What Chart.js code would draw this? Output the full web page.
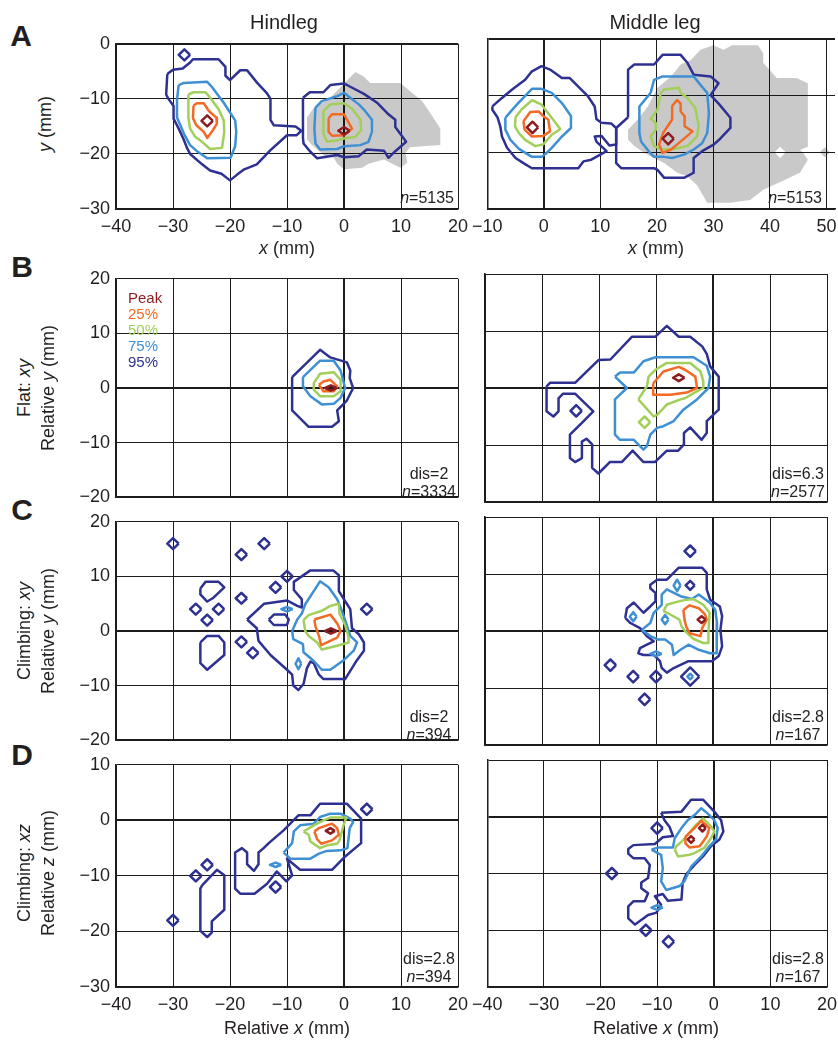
<!DOCTYPE html>
<html>
<head>
<meta charset="utf-8">
<script src="https://cdn.jsdelivr.net/npm/chart.js@4.4.0/dist/chart.umd.min.js"></script>
<style>
  body { margin:0; width:838px; height:1040px; position:relative; overflow:hidden; background:#fff;
         font-family:"Liberation Sans", Arial, sans-serif; color:#231f20; }
  canvas { position:absolute; }
  .c, .r, .l, .v { position:absolute; line-height:1; white-space:nowrap; z-index:2; }
  .c { transform:translate(-50%,-50%); }
  .r { transform:translate(-100%,-50%); }
  .l { transform:translate(0,-50%); }
  .v { transform:translate(-50%,-50%) rotate(-90deg); font-size:18px; }
  .big { font-size:30px; font-weight:bold; }
  .ttl { font-size:20px; }
  .ax { font-size:18px; }
  .note { font-size:16px; text-align:center; }
  .lg { font-size:15px; }
</style>
</head>
<body>

<div class="c ttl" style="left:284px;top:22px">Hindleg</div>
<div class="c ttl" style="left:655px;top:22px">Middle leg</div>

<div class="c big" style="left:21px;top:36px">A</div>
<div class="c big" style="left:22px;top:267px">B</div>
<div class="c big" style="left:22px;top:510px">C</div>
<div class="c big" style="left:22px;top:755px">D</div>

<div class="v" style="left:45px;top:124px"><i>y</i> (mm)</div>
<div class="v" style="left:24px;top:388px">Flat: <i>xy</i></div>
<div class="v" style="left:48px;top:388px">Relative <i>y</i> (mm)</div>
<div class="v" style="left:24px;top:631px">Climbing: <i>xy</i></div>
<div class="v" style="left:48px;top:631px">Relative <i>y</i> (mm)</div>
<div class="v" style="left:24px;top:873px">Climbing: <i>xz</i></div>
<div class="v" style="left:48px;top:873px">Relative <i>z</i> (mm)</div>

<div class="c ax" style="left:287px;top:248px"><i>x</i> (mm)</div>
<div class="c ax" style="left:656px;top:248px"><i>x</i> (mm)</div>
<div class="c ax" style="left:287px;top:1028px">Relative <i>x</i> (mm)</div>
<div class="c ax" style="left:656px;top:1028px">Relative <i>x</i> (mm)</div>

<div class="l lg" style="left:128px;top:297px;color:#8c1c1f">Peak</div>
<div class="l lg" style="left:128px;top:313px;color:#f26a25">25%</div>
<div class="l lg" style="left:128px;top:329px;color:#a2cf5a">50%</div>
<div class="l lg" style="left:128px;top:345px;color:#3f8fd4">75%</div>
<div class="l lg" style="left:128px;top:361px;color:#2e3191">95%</div>

<div class="r note" style="left:454px;top:198px"><i>n</i>=5135</div>
<div class="r note" style="left:822px;top:198px"><i>n</i>=5153</div>
<div class="c note" style="left:429px;top:474px">dis=2</div>
<div class="c note" style="left:429px;top:492px"><i>n</i>=3334</div>
<div class="c note" style="left:798px;top:474px">dis=6.3</div>
<div class="c note" style="left:798px;top:492px"><i>n</i>=2577</div>
<div class="c note" style="left:429px;top:717px">dis=2</div>
<div class="c note" style="left:429px;top:735px"><i>n</i>=394</div>
<div class="c note" style="left:798px;top:717px">dis=2.8</div>
<div class="c note" style="left:798px;top:735px"><i>n</i>=167</div>
<div class="c note" style="left:429px;top:959px">dis=2.8</div>
<div class="c note" style="left:429px;top:977px"><i>n</i>=394</div>
<div class="c note" style="left:798px;top:959px">dis=2.8</div>
<div class="c note" style="left:798px;top:977px"><i>n</i>=167</div>

<script>
// tick values
const relTicksX = [-40, -30, -20, -10, 0, 10, 20];
const midTicksXA = [-10, 0, 10, 20, 30, 40, 50];
const ticksYA = [0, -10, -20, -30];
const ticksYBC = [20, 10, 0, -10, -20];
const ticksYD = [10, 0, -10, -20, -30];

// contour levels, outermost first
const levelNames = ['95%', '75%', '50%', '25%', 'Peak'];
const levelColors = ['#2e3191', '#3f8fd4', '#a2cf5a', '#f26a25', '#8c1c1f'];

// --- A, hindleg (x, y in mm) ---
const aHind95 = [
  [[-31,-5.5],[-30,-4.7],[-28.3,-4.5],[-27,-3.4],[-26.5,-2.8],[-22,-2.8],[-20.8,-4.2],[-20.8,-5.8],[-20,-6.6],[-18.2,-4.8],[-17,-4.8],[-15.3,-7],[-13.5,-9],[-12.9,-10],[-12.9,-13.8],[-12.3,-14.8],[-8.5,-15],[-7.5,-15.8],[-8.3,-16.6],[-10,-16.6],[-12.9,-19.3],[-15.3,-21.9],[-17.5,-22.8],[-18.8,-23.8],[-20,-24.8],[-21.5,-23.6],[-23.5,-23],[-25,-21.8],[-27,-20],[-27.5,-19],[-28.2,-17.2],[-29,-15.4],[-29.9,-13.6],[-29.9,-11.3],[-30.8,-10],[-31.2,-9.2]],
  [[-7.2,-9.8],[-6,-8.8],[-3.6,-8.8],[-2.4,-7.5],[0,-7.2],[1.1,-7.8],[3.5,-9.1],[5.8,-10.7],[7.8,-12.8],[9,-13.8],[9,-15.1],[10.9,-17.8],[9,-19.5],[7.8,-20.7],[7,-19.4],[4,-19.2],[2.6,-20.4],[0,-20.6],[-1.2,-20.2],[-4.7,-20.8],[-5.9,-19.6],[-7.1,-18.1],[-7.2,-17.1]]
];
const aHind95Dia = [[-28,-2]];
const aHind75 = [
  [[-29,-7.5],[-28.1,-7.1],[-24,-6.9],[-23.2,-7.8],[-21.1,-10.7],[-19.1,-13.9],[-18.9,-16],[-19.1,-18.6],[-19.9,-20.7],[-24,-20.8],[-25.8,-19.5],[-27,-18.4],[-28.1,-16.3],[-28.7,-14.8],[-29.3,-13.4],[-29.3,-10.1]],
  [[-5,-11.6],[-3.9,-10.4],[-1.2,-9.5],[0,-8.9],[1.1,-9.8],[2.6,-11],[3.7,-12.2],[4.9,-13.8],[4.9,-16],[4.3,-17.8],[2.9,-18.4],[0,-18.6],[-1.2,-19.1],[-4.2,-19.2],[-5,-18.1],[-5.2,-15.4]]
];
const aHind50 = [
  [[-27.3,-9.2],[-26.4,-8.8],[-24.3,-8.8],[-23.7,-9.5],[-22,-11.9],[-21.1,-13.9],[-21,-16],[-21.4,-18.9],[-23.5,-19.1],[-24.9,-17.8],[-26.1,-16.9],[-27,-15.4],[-27.3,-13.4]],
  [[-3.6,-12.2],[-2.4,-11],[0,-10.8],[1.4,-11.8],[2.9,-13.8],[3,-15.7],[2,-16.9],[0,-17.2],[-1.2,-17.5],[-3,-17.8],[-3.6,-16.3]]
];
const aHind25 = [
  [[-26.4,-11.2],[-25.8,-10.8],[-24.6,-10.8],[-23.7,-12.2],[-22.4,-13.4],[-22.3,-14.5],[-23,-15.7],[-24,-17.1],[-24.6,-16],[-25.9,-14.8],[-26.5,-13.5]],
  [[-2.7,-13.5],[-2.1,-12.8],[0,-12.8],[0.6,-13.9],[1.4,-15.4],[0.6,-16.1],[0,-16.6],[-2.1,-16.7],[-2.7,-16]]
];
const aHindPeak = [[-24,-14], [0,-15.8,1,0.7]];
const aHindGray = [
  [[-6.5,-13.4],[-5.3,-11.6],[-2.4,-9.8],[0,-7.2],[2,-5.1],[3.5,-6],[4.6,-7.1],[9.9,-7.1],[11.6,-8.6],[13.7,-10.4],[15.1,-12.5],[16.9,-15.4],[16.9,-18.4],[13.7,-18.6],[11.6,-18.8],[10.8,-19.8],[11.1,-21.6],[9.9,-22.5],[8.7,-21.9],[7,-21],[4.3,-21.8],[3.2,-22.5],[0,-22.8],[-1.2,-21.8],[-1.8,-20.7],[-3.3,-20.4],[-4.7,-19.2],[-5.9,-18.1],[-6.6,-17.2]]
];

// --- A, middle leg ---
const aMid95 = [
  [[-9.1,-11.9],[-7.4,-10.4],[-5.6,-8.9],[-3.3,-7.2],[-2.1,-5.7],[-0.4,-4.8],[1.1,-5.4],[3.2,-6.9],[4.6,-6.9],[6.1,-8.4],[7.8,-10.1],[9,-11.9],[9.3,-14.1],[10.2,-14.8],[11.9,-14.9],[12.8,-15.7],[12.8,-18.6],[11.6,-18.8],[10.2,-17.1],[9,-17.2],[9.3,-18.1],[11.1,-19.8],[8.4,-21.3],[7,-21.6],[6.1,-22.8],[-2.1,-22.8],[-3.6,-21.9],[-5,-21],[-6.5,-19.2],[-7.4,-17.2],[-7.7,-15.4],[-8.2,-13.8],[-9.1,-12.5]],
  [[14.9,-13.8],[14.9,-5.4],[16,-4.5],[19.5,-4.5],[21,-2.8],[24.2,-2.8],[25.4,-4.2],[26.5,-6.3],[29.5,-6.6],[30.9,-7.8],[29.5,-9.9],[31,-11.5],[33,-13.9],[33,-15.7],[31.2,-17.6],[30.1,-18.6],[28,-19.8],[26.5,-21],[26.5,-23.6],[24.8,-24.5],[21.3,-24.5],[20.1,-23.1],[19.5,-22.8],[13.7,-22.8],[12.8,-21.9],[12.8,-15.7]]
];
const aMid75 = [
  [[-6.8,-13.9],[-5.6,-12.5],[-4.4,-11.2],[-2.1,-8.8],[-0.4,-8.8],[1.4,-9.5],[3.2,-11.3],[4.8,-13.6],[4.8,-15.7],[3.2,-17.2],[1.4,-19.2],[0.5,-20.1],[-0.4,-20.8],[-2.1,-20.8],[-4.4,-19.4],[-5.9,-17.8],[-6.8,-16]],
  [[18.9,-9.5],[19.5,-7.2],[21,-6.6],[26.5,-6.6],[27.7,-8.1],[28.9,-9.5],[29.2,-13.1],[28.9,-16.6],[28,-18.4],[26.5,-19.5],[24.8,-20.4],[22.7,-21],[21.3,-20.8],[19.5,-20.8],[18.7,-20],[17.2,-18.1],[16.9,-16.6],[16.9,-11.9]]
];
const aMid50 = [
  [[-5,-13.8],[-3.9,-12.4],[-2.1,-10.8],[-0.4,-11.6],[1.4,-13.9],[2.9,-15.9],[1.4,-16.9],[-0.1,-18.6],[-1.5,-18.9],[-3.3,-17.8],[-4.4,-16.6],[-5.1,-15.4]],
  [[20.7,-9.5],[21.3,-8.9],[23.9,-8.6],[24.2,-9.5],[25.4,-10.4],[26.8,-12.2],[27.4,-15.4],[27.1,-17.2],[25.4,-18.9],[23,-19.4],[21,-19.5],[19.5,-18.9],[18.9,-17.2],[19.8,-16],[19.8,-14.8],[18.9,-14.1],[20.1,-12.5]]
];
const aMid25 = [
  [[-3.6,-14.5],[-2.4,-12.9],[-0.9,-12.8],[0.1,-13.8],[0.8,-14.2],[1.1,-16.3],[-0.1,-17.1],[-2.1,-17.2],[-3.4,-16]],
  [[22.7,-11.8],[23.6,-10.8],[24.2,-11.4],[24.2,-12.8],[24.9,-13.6],[24.9,-15.4],[26.3,-16.3],[23.6,-18.6],[22.5,-19.5],[21,-20.1],[20.4,-18.6],[21.1,-16.6],[22.7,-14.2]]
];
const aMidPeak = [[-2,-15.6], [22,-17.6]];
const aMidGray = [
  [[14.9,-16],[16.6,-14.2],[18.4,-11.9],[20.1,-8.6],[22.5,-6.6],[24.2,-4.5],[26,-3.7],[27.7,-1.9],[30,-1.1],[31.8,-1.9],[33.3,-1.1],[37.9,-1.1],[38.8,-2.5],[38.8,-4.2],[41.2,-6.9],[44.7,-6.9],[46.7,-7.8],[46.7,-19],[45.3,-19.6],[45.8,-20],[42.8,-20],[41.8,-19],[40.8,-20],[41.8,-21],[42.8,-20],[45.8,-20],[46.7,-21.3],[45.3,-23.6],[42.6,-24.9],[38.8,-26.6],[36.5,-28.4],[33,-28.9],[28.9,-28.9],[27.1,-25.8],[25.4,-24.2],[23.6,-23.6],[21.3,-21.9],[20.1,-21.3],[17.8,-20.1],[16,-18.9],[14.9,-17.8]]
];
const aMidGrayDia = [[49.7,-20,0.9]];

// --- B, flat xy ---
const bHind95 = [[[-9.1,2],[-4.2,7],[-2.4,5.6],[0.5,4.7],[1.1,3.2],[1,1.8],[1.6,0],[0.5,-2.3],[-1.2,-4.1],[-0.9,-6.1],[-2.1,-7.1],[-6.2,-7.1],[-9.1,-4.1]]];
const bHind75 = [[[-7.2,2],[-4.2,5],[-1.8,5],[-0.6,3.2],[0.2,0],[-0.6,-1.8],[-1.8,-2.9],[-3.9,-3],[-5.9,-1.5],[-7.2,0.3]]];
const bHind50 = [[[-5.3,0.9],[-4.2,2.6],[-1.8,2.9],[-0.6,1.5],[-0.6,-0.6],[-1.8,-1.5],[-4.2,-1.5],[-5.3,-0.3]]];
const bHind25 = [[[-4.4,0.6],[-3.6,1.2],[-2.4,1.5],[-1.2,0.3],[-1.8,-0.6],[-3.6,-0.6]]];
const bHindPeak = [[-2.3,0,1,0.5]];

const bMid95 = [[[-29.2,0.3],[-28.6,0.9],[-24.2,0.9],[-20.1,4.9],[-18,5],[-14.2,9],[-10.1,9],[-8.1,10.9],[-6,9],[-4,9],[-1.9,7.3],[-1.1,6],[-0.5,3.8],[1,2],[1,-3.8],[-1.1,-5.8],[-1.1,-7.9],[-2,-9.1],[-4,-6.9],[-5.1,-7.9],[-5.1,-9.9],[-6.1,-11],[-8.1,-11],[-10.2,-13],[-12.2,-13],[-14.1,-11],[-16,-13],[-18.1,-13],[-20.1,-15],[-21.2,-14],[-21.2,-9.9],[-22.2,-8.9],[-23,-9.4],[-23,-12.3],[-24.2,-13],[-25.1,-12.3],[-25.1,-8.2],[-23,-6.1],[-21,-4.1],[-24.2,-1],[-26.3,-1],[-27.1,-1.8],[-27.1,-4.1],[-28,-5],[-29.2,-4.1]]];
const bMid95Dia = [[-24,-4]];
const bMid75 = [[[-17.2,2],[-16.3,2.7],[-13.9,2.7],[-12.2,4.7],[-10.1,5.4],[-3.4,5.4],[-1.1,3.9],[-0.5,2],[-0.8,0],[-2.8,-2],[-5.2,-3.8],[-6.9,-5.8],[-8.7,-6.7],[-9.8,-7],[-11,-8.2],[-11.6,-10.2],[-12.2,-10.8],[-13.9,-9.1],[-16.3,-9.1],[-17.2,-8.2],[-17.2,-2],[-15.1,0]]];
const bMid50 = [[[-13.1,-2],[-11.6,0.3],[-11.3,2],[-10.1,3.2],[-8.1,4.4],[-4,4.4],[-2.2,2.9],[-1.7,1.2],[-1.7,0],[-3.4,-0.9],[-4.9,-1.8],[-5.7,-2],[-8.1,-2.9],[-9.8,-4.7],[-10.4,-5]]];
const bMid50Dia = [[-12,-6]];
const bMid25 = [[[-10.5,0.8],[-8.7,2.9],[-6,3.7],[-4.9,3.2],[-3.1,2],[-2.8,0],[-4.6,-0.8],[-7.5,-1.2],[-10.4,-1.2]]];
const bMidPeak = [[-6,1.8,1,0.6]];

// --- C, climbing xy ---
const cHind95 = [
  [[-17,2.1],[-14,5],[-10,5.6],[-8.2,4.6],[-7.4,4.3],[-7.4,5.8],[-8.8,7.5],[-8.8,9],[-5.9,11.1],[-1.9,11.1],[-0.9,10.2],[-0.9,7.3],[0,5.8],[1.1,4],[1.4,0.5],[2.6,-0.6],[3.5,-2.1],[3.5,-3.6],[2.3,-5.3],[0.2,-8.8],[-3.6,-8.8],[-4.4,-8],[-5.3,-5.9],[-5.9,-5.6],[-6.5,-6.8],[-7.1,-9.7],[-8,-10.8],[-8.9,-10],[-9.1,-8],[-10,-7.1],[-12.9,-4.4],[-15,-1.8],[-15.3,0.5]],
  [[-13.2,2.1],[-12.3,3],[-10.3,3],[-9.7,2.1],[-10,1.1],[-12.3,1.1]],
  [[-25.2,7.8],[-24.3,9],[-22,9],[-21,8],[-22.9,6.1],[-24,5.4],[-25.2,6.7]],
  [[-25.2,-2.1],[-24,-0.9],[-22,-0.9],[-21,-2.1],[-21,-4.4],[-24,-7.1],[-25.2,-5.9]]
];
const cHind95Dia = [[-30,16],[-18,14],[-14,16],[-10,10],[-12,8],[-18,6],[-26,4],[-22,4],[-24,2],[-18,-2],[-16,-4],[4,4]];
const cHind75 = [[[-9.1,0],[-8.2,2.1],[-7.4,3.2],[-6.8,4.9],[-4.2,9.1],[-2.7,8],[-1.2,5.8],[-0.6,4.3],[0.2,2],[1.1,-0.9],[2.3,-2.1],[1.7,-3.6],[0,-5.3],[-2.4,-7.1],[-3.9,-7.1],[-5.3,-5.5],[-7.1,-3.9],[-7.2,-2.4],[-8.9,-1.5]]];
const cHind75Dia = [[-10,4,1,0.4], [-8,-6,0.5,1]];
const cHind50 = [[[-7.1,2],[-6.2,2.9],[-3.9,3.7],[-2.4,4.6],[-0.9,5],[-0.8,3.2],[0.2,1.1],[0.8,-1.1],[0.8,-2.1],[-1.2,-2.7],[-3.9,-3.4],[-4.7,-2.1],[-6.2,-0.9],[-6.8,0]]];
const cHind25 = [[[-5.2,2.1],[-2.4,3],[-1.2,1.4],[-0.6,0],[-1.2,-1.2],[-2.4,-1.8],[-4,-2.6],[-4.4,-0.9],[-5,0.8]]];
const cHindPeak = [[-2.3,0,1,0.5]];

const cMid95 = [[[-15.4,2.3],[-15.1,4],[-13.9,5],[-12.2,3.2],[-11,4.3],[-10.1,5.2],[-10.1,6.7],[-11,7.5],[-11,8.1],[-9.8,9],[-8.1,9],[-6,11.1],[-1.9,11.1],[-1.1,10.2],[-1.1,7.3],[-0.5,5.5],[1.2,4.3],[1.6,2.6],[1.3,0.2],[1.6,-2.7],[1,-4.4],[-0.2,-5.3],[-4.3,-5.3],[-6.9,-6.5],[-8.1,-7.3],[-9,-6.5],[-9.3,-5.3],[-10.4,-4.2],[-12.2,-4.2],[-13.1,-3.9],[-12.8,-3],[-11.6,-2.4],[-10.4,-1.8],[-11.6,-0.9],[-12.8,0.5],[-14.5,1.4]]];
const cMid95Dia = [[-4,14],[-18,-6],[-14,-8],[-10,-8],[-12,-12],[-4,-8,1.6],[-4,8,0.8]];
const cMid75 = [[[-12.5,0.2],[-11,1.4],[-10.4,3.2],[-9,4.6],[-9,6.4],[-8.1,7.3],[-5.7,6.1],[-3.7,5.6],[-2.5,6.4],[-0.5,4.9],[0.4,3.7],[0.7,1.4],[0.6,-0.9],[0.7,-3.9],[-0.5,-3.9],[-2.5,-3.3],[-4.3,-2.4],[-5.7,-3.3],[-6.9,-4.2],[-7.2,-2.4],[-8.4,-1.5],[-9.6,-1.5],[-11,-0.9]]];
const cMid75Dia = [[-6.3,8,0.6,1],[-14,2.5,0.6,0.8],[-8.4,2,0.6,0.8],[-10,-4,1,0.4],[-4,-8,0.5]];
const cMid50 = [[[-8.7,3.5],[-8.1,4.6],[-6,5.2],[-4.6,5.5],[-3.4,5.6],[-1.7,4.6],[-0.6,3.2],[-0.8,0],[-0.8,-2.1],[-1.7,-2.1],[-3.4,-1.4],[-4.9,0],[-5.5,0.8],[-5.9,2],[-7.5,2.9]]];
const cMid25 = [[[-5.2,3.7],[-4.1,4.5],[-2.5,4],[-1.4,2.9],[-1.1,2],[-1.9,0.5],[-2.2,-0.9],[-4.1,-0.4],[-4.7,0.8],[-5,2]]];
const cMidPeak = [[-2,2,0.7,0.6]];

// --- D, climbing xz ---
const dHind95 = [
  [[-10.6,-1.8],[-8,0.9],[-5.9,0.9],[-4.2,3],[0.5,3],[3,0.3],[3,-4.1],[0,-6.7],[-2.1,-8.9],[-7.7,-8.9],[-10,-6.9],[-9.1,-9.9],[-10.1,-11],[-11.8,-9.2],[-13.5,-11.4],[-15.7,-13.2],[-18.2,-13.2],[-19.1,-12.3],[-19.1,-5.8],[-17.9,-5],[-17,-5.8],[-17,-7.9],[-15.8,-9.1],[-15,-7.9],[-15,-5.8],[-14.1,-5],[-13.2,-4.1]],
  [[-24.9,-11.7],[-22.3,-8.9],[-21,-9.9],[-21,-16.1],[-23.2,-18.2],[-23.2,-20.2],[-24,-21],[-25.2,-19.9],[-25.2,-12.3]]
];
const dHind95Dia = [[4,2],[-24,-8],[-26,-10],[-30,-18],[-12,-12]];
const dHind75 = [[[-10.6,-5.8],[-9.1,-4.1],[-8.8,-2],[-7.7,-0.9],[-5.3,-0.6],[-4.2,0.6],[-2.4,1.2],[-0.6,1.2],[1.1,0.3],[1.6,-0.3],[1,-1.4],[0.6,-5],[-0.6,-5.4],[-3,-5.5],[-4.4,-6],[-5.9,-6.9],[-9.4,-6.9]]];
const dHind75Dia = [[-12,-8,1,0.4]];
const dHind50 = [[[-7.1,-2],[-5.3,-0.9],[-3.6,0],[-2.4,0.5],[0.4,0.5],[0,-0.6],[-0.8,-3.6],[-1.2,-4.2],[-3,-4.5],[-4.2,-5],[-5.9,-3.8],[-6.2,-2.6]]];
const dHind25 = [[[-5.2,-2],[-4.4,-1.4],[-2.1,-0.6],[-1.2,-1.4],[-0.9,-2.6],[-2.1,-3.6],[-4,-4.2],[-4.7,-3.4]]];
const dHindPeak = [[-2.4,-1.9,0.8,0.5]];

const dMid95 = [[[-9.3,0.7],[-5.7,0.9],[-4,3],[-1.9,3],[0.1,0.9],[1.3,-0.6],[1.7,-2.6],[1,-4],[-0.5,-5.2],[-1.9,-7],[-3.4,-8.5],[-4.9,-10.2],[-5.5,-11.7],[-5.7,-14.6],[-8.1,-14.8],[-9,-13.6],[-10.4,-14],[-9.3,-15.5],[-10.1,-16.9],[-11.6,-17.3],[-13.9,-19],[-15.1,-17.9],[-15.1,-15.8],[-14.2,-14.9],[-12.2,-14.9],[-11.6,-13.5],[-12.8,-12.6],[-12.8,-11.6],[-11.6,-10.8],[-11.3,-8.5],[-12.2,-7.3],[-14.2,-7.3],[-15.1,-6.5],[-15.1,-5.7],[-14.2,-5],[-10.4,-4.8],[-9,-3.6],[-7.2,-3.4],[-7.8,-1.8],[-8.7,-0.6]]];
const dMid95Dia = [[-10,-2],[-18,-10],[-12,-20],[-8,-22]];
const dMid75 = [[[-11,-5.8],[-9.8,-5.4],[-7.2,-5.4],[-6.9,-3.8],[-5.7,-2],[-4.6,-0.6],[-3.4,0.3],[-2.2,1.5],[-1.1,0.6],[0.1,-0.6],[0.7,-2],[0.4,-4],[-0.8,-5.2],[-2.2,-7],[-4,-8.8],[-5.2,-11.4],[-6,-12.2],[-8.4,-12.9],[-9.3,-11.4],[-9,-9.1],[-9.3,-6.7]]];
const dMid75Dia = [[-10,-16,1,0.4]];
const dMid50 = [[[-6.9,-5.8],[-6.6,-5.2],[-5.7,-4.4],[-4.6,-3.2],[-3.4,-1.7],[-1.9,-0.3],[-0.5,-1.7],[0.1,-2.6],[-0.5,-3.8],[-1.7,-5.5],[-3.4,-6.4],[-4.3,-6.7],[-6.3,-7]]];
const dMid25 = [[[-5,-3.5],[-3.4,-2],[-2.2,-0.7],[-0.8,-2],[-1.2,-3.4],[-1.9,-4.4],[-2.5,-5.2],[-4.3,-5.4],[-5,-4.7]]];
const dMidPeak = [[-2,-2,0.6],[-4,-4,0.6]];

// layout of the 4x2 grid of plots (px)
const colLeft = [116, 485];
const rowTop = [39, 274, 517, 760];
const rowH = [170, 228, 228, 227];

const panels = [
  { col:0, row:0, xr:[-40,20], yr:[-30,0], xt:relTicksX, yt:ticksYA,
    lines:[aHind95, aHind75, aHind50, aHind25, []], dias:[aHind95Dia, [], [], [], aHindPeak], gray:aHindGray },
  { col:1, row:0, xr:[-10,51.5], yr:[-30,0], xt:midTicksXA, yt:ticksYA, w:350,
    lines:[aMid95, aMid75, aMid50, aMid25, []], dias:[[], [], [], [], aMidPeak], gray:aMidGray, grayDia:aMidGrayDia },
  { col:0, row:1, xr:[-40,20], yr:[-20,20], xt:relTicksX, yt:ticksYBC,
    lines:[bHind95, bHind75, bHind50, bHind25, []], dias:[[], [], [], [], bHindPeak] },
  { col:1, row:1, xr:[-40,20], yr:[-20,20], xt:relTicksX, yt:ticksYBC,
    lines:[bMid95, bMid75, bMid50, bMid25, []], dias:[bMid95Dia, [], bMid50Dia, [], bMidPeak] },
  { col:0, row:2, xr:[-40,20], yr:[-20,20], xt:relTicksX, yt:ticksYBC,
    lines:[cHind95, cHind75, cHind50, cHind25, []], dias:[cHind95Dia, cHind75Dia, [], [], cHindPeak] },
  { col:1, row:2, xr:[-40,20], yr:[-20,20], xt:relTicksX, yt:ticksYBC,
    lines:[cMid95, cMid75, cMid50, cMid25, []], dias:[cMid95Dia, cMid75Dia, [], [], cMidPeak] },
  { col:0, row:3, xr:[-40,20], yr:[-30,10], xt:relTicksX, yt:ticksYD,
    lines:[dHind95, dHind75, dHind50, dHind25, []], dias:[dHind95Dia, dHind75Dia, [], [], dHindPeak] },
  { col:1, row:3, xr:[-40,20], yr:[-30,10], xt:relTicksX, yt:ticksYD,
    lines:[dMid95, dMid75, dMid50, dMid25, []], dias:[dMid95Dia, dMid75Dia, [], [], dMidPeak] }
];

const toPts = (poly) => poly.concat([poly[0]]).map(p => ({ x: p[0], y: p[1] }));
// isolated grid cell -> small diamond contour
const diamond = (d) => {
  const x = d[0], y = d[1], rx = d[2] || 1, ry = d[3] || rx;
  return [[x + rx, y], [x, y + ry], [x - rx, y], [x, y - ry]];
};
const fmt = (v) => v < 0 ? '\u2212' + Math.abs(v) : String(v);
const FONT = '"Liberation Sans", Arial, sans-serif';
const INK = '#1c1c1c';

function buildDatasets(p) {
  const ds = [];
  const grays = (p.gray || []).concat((p.grayDia || []).map(diamond));
  grays.forEach(poly => ds.push({
    data: toPts(poly), showLine: true, fill: 'shape', backgroundColor: 'rgba(0,0,0,0.21)',
    borderWidth: 0, pointRadius: 0, order: 10
  }));
  p.lines.forEach((polys, li) => {
    const all = polys.concat((p.dias[li] || []).map(diamond));
    all.forEach(poly => ds.push({
      label: levelNames[li], data: toPts(poly), showLine: true, fill: false,
      borderColor: levelColors[li], borderWidth: 2.5, pointRadius: 0,
      borderJoinStyle: 'round', order: 5 - li
    }));
  });
  return ds;
}

panels.forEach(p => {
  const ML = p.col === 0 ? 60 : 20, MR = 20, MT = 12;
  const showX = p.row === 0 || p.row === 3;
  const MB = showX ? 32 : 12;
  const w = p.w || 342, h = rowH[p.row];
  const cv = document.createElement('canvas');
  cv.width = w + ML + MR;
  cv.height = h + MT + MB;
  cv.style.left = (colLeft[p.col] - ML) + 'px';
  cv.style.top = (rowTop[p.row] - MT) + 'px';
  cv.style.width = cv.width + 'px';
  cv.style.height = cv.height + 'px';
  document.body.appendChild(cv);

  const grid = {
    color: INK, drawTicks: false,
    lineWidth: (c) => (c.tick && c.tick.value === 0) ? 2 : 1
  };

  new Chart(cv, {
    type: 'scatter',
    data: { datasets: buildDatasets(p) },
    options: {
      responsive: false, animation: false, devicePixelRatio: 1,
      layout: { padding: { top: MT, right: MR, left: 0, bottom: 0 }, autoPadding: false },
      plugins: { legend: { display: false }, tooltip: { enabled: false } },
      scales: {
        x: {
          type: 'linear', min: p.xr[0], max: p.xr[1],
          afterBuildTicks: (s) => { s.ticks = p.xt.map(v => ({ value: v })); },
          afterFit: (s) => { s.height = MB; },
          grid: grid,
          border: { display: true, color: INK, width: 1.5 },
          ticks: { display: showX, padding: 7, autoSkip: false, maxRotation: 0,
                   font: { family: FONT, size: 18 }, color: '#231f20', callback: fmt }
        },
        y: {
          type: 'linear', min: p.yr[0], max: p.yr[1],
          afterBuildTicks: (s) => { s.ticks = p.yt.map(v => ({ value: v })); },
          afterFit: (s) => { s.width = ML; },
          grid: grid,
          border: { display: true, color: INK, width: 1.5 },
          ticks: { display: p.col === 0, padding: 6, autoSkip: false,
                   font: { family: FONT, size: 18 }, color: '#231f20', callback: fmt }
        }
      }
    }
  });
});
</script>
</body>
</html>
